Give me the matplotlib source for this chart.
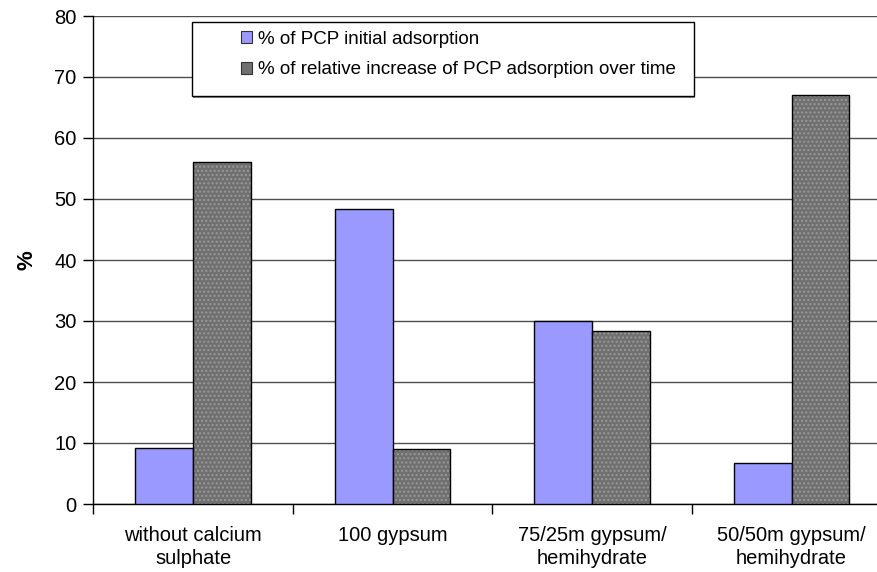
import matplotlib
matplotlib.use('Agg')
import numpy as np
import matplotlib.pyplot as plt
from matplotlib.patches import Rectangle, Patch

plt.rcParams['font.family'] = ['Liberation Sans', 'DejaVu Sans']

# data
categories = ['without calcium\nsulphate', '100 gypsum',
              '75/25m gypsum/\nhemihydrate', '50/50m gypsum/\nhemihydrate']
initial_adsorption = [9.1, 48.4, 30.0, 6.8]
relative_increase = [56.0, 9.0, 28.3, 67.0]
series_names = ['% of PCP initial adsorption',
                '% of relative increase of PCP adsorption over time']

W, H = 877, 572
fig = plt.figure(figsize=(W / 100, H / 100), dpi=100)
ax = fig.add_axes([93.3 / W, 1 - 504 / H, 798 / W, 488 / H])

x = np.arange(len(categories))
bw = 0.29
blue = '#9999ff'
grey = '#707070'

ax.bar(x - bw / 2, initial_adsorption, bw, color=blue, edgecolor='black',
       linewidth=1, zorder=3)
# grey bars: dotted fill, then a black outline on top
ax.bar(x + bw / 2, relative_increase, bw, color=grey, edgecolor='#9a9a9a',
       hatch='....', linewidth=0, zorder=3)
ax.bar(x + bw / 2, relative_increase, bw, fill=False, edgecolor='black',
       linewidth=1, zorder=4)

ax.set_xlim(-0.5, 3.5)
ax.set_ylim(0, 80)
ax.set_yticks(range(0, 81, 10))
ax.yaxis.grid(True, color='#4d4d4d', linewidth=1)
ax.set_axisbelow(True)

ax.set_xticks(x)
ax.set_xticklabels(categories, fontsize=14.5, linespacing=1.22)
ax.set_xticks(np.arange(-0.5, 4, 1), minor=True)
ax.tick_params(axis='x', which='major', length=0, pad=16)
ax.tick_params(axis='x', which='minor', length=7, width=1, direction='out')
ax.tick_params(axis='y', length=7, width=1, direction='out', labelsize=14.5, pad=5)

for s in ['top', 'right']:
    ax.spines[s].set_visible(False)
for s in ['left', 'bottom']:
    ax.spines[s].set_linewidth(1)
    ax.spines[s].set_color('black')

ax.set_ylabel('%', fontsize=16, fontweight='bold', labelpad=12)

# legend box (fixed size like the original)
fig.patches.append(Rectangle((193 / W, 1 - 98 / H), 502 / W, 74 / H,
                             transform=fig.transFigure, facecolor='#888888',
                             edgecolor='none', zorder=5))
fig.patches.append(Rectangle((191.5 / W, 1 - 96 / H), 502 / W, 74 / H,
                             transform=fig.transFigure, facecolor='white',
                             edgecolor='black', linewidth=1, zorder=6))
handles = [Patch(facecolor=blue, edgecolor='#333333', linewidth=0.8),
           Patch(facecolor=grey, edgecolor='#333333', linewidth=0.8)]
leg = fig.legend(handles, series_names, loc='upper left',
                 bbox_to_anchor=(241 / W, 1 - 31 / H), frameon=False,
                 fontsize=13.5, handlelength=0.6, handleheight=0.6,
                 handletextpad=0.3, labelspacing=0.72, borderpad=0,
                 borderaxespad=0)
leg.set_zorder(7)

fig.savefig('out.png', dpi=100)
